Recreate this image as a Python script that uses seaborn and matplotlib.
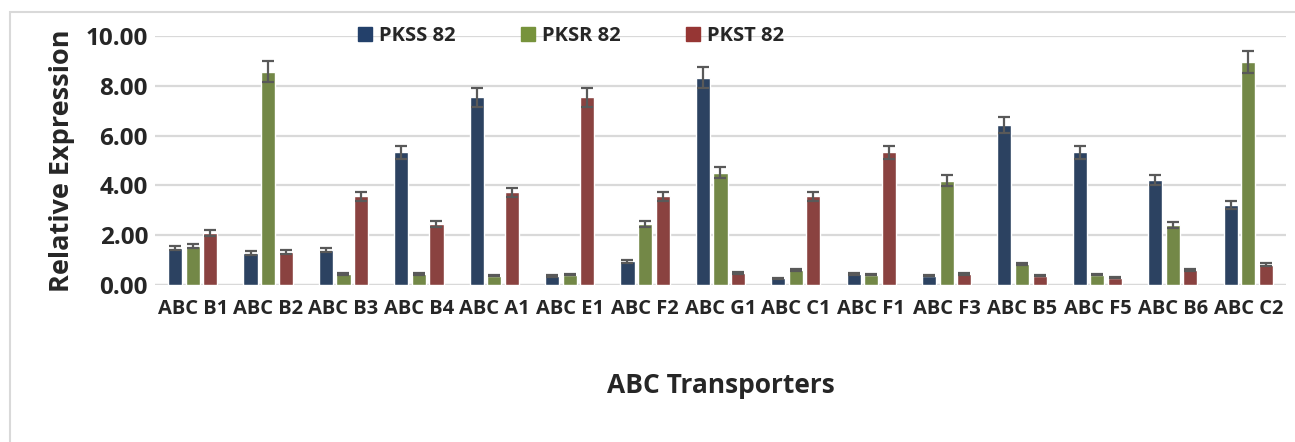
import numpy as np
import pandas as pd
import matplotlib
matplotlib.use("Agg")
import matplotlib.pyplot as plt
import seaborn as sns
from matplotlib.patches import Rectangle
from matplotlib.lines import Line2D

genes = ["ABC B1", "ABC B2", "ABC B3", "ABC B4", "ABC A1", "ABC E1", "ABC F2", "ABC G1",
         "ABC C1", "ABC F1", "ABC F3", "ABC B5", "ABC F5", "ABC B6", "ABC C2"]
series = ["PKSS 82", "PKSR 82", "PKST 82"]

pkss = [1.50, 1.27, 1.42, 5.33, 7.55, 0.37, 0.95, 8.32, 0.27, 0.45, 0.38, 6.42, 5.33, 4.22, 3.22]
pksr = [1.55, 8.57, 0.45, 0.45, 0.38, 0.42, 2.45, 4.52, 0.62, 0.42, 4.20, 0.85, 0.42, 2.40, 8.97]
pkst = [2.10, 1.33, 3.57, 2.45, 3.72, 7.55, 3.57, 0.50, 3.57, 5.33, 0.45, 0.38, 0.30, 0.60, 0.82]

pkss_err = [0.08, 0.08, 0.08, 0.27, 0.38, 0.03, 0.05, 0.42, 0.03, 0.03, 0.03, 0.32, 0.27, 0.21, 0.16]
pksr_err = [0.08, 0.42, 0.03, 0.03, 0.03, 0.03, 0.12, 0.23, 0.04, 0.03, 0.21, 0.05, 0.03, 0.12, 0.45]
pkst_err = [0.11, 0.07, 0.18, 0.12, 0.18, 0.38, 0.18, 0.04, 0.18, 0.27, 0.03, 0.03, 0.03, 0.03, 0.05]

colors = ["#23406A", "#77933C", "#963634"]

df = pd.DataFrame({
    "gene": genes * 3,
    "sample": np.repeat(series, len(genes)),
    "value": pkss + pksr + pkst,
})
errs = [pkss_err, pksr_err, pkst_err]

sns.set_style("white")
plt.rcParams["font.family"] = ["Open Sans", "DejaVu Sans"]

fig = plt.figure(figsize=(12.95, 4.42), dpi=100)
ax = fig.add_axes([0.1197, 0.355, 0.8733, 0.5634])

sns.barplot(data=df, x="gene", y="value", hue="sample", palette=colors,
            width=0.7, gap=0.2, errorbar=None, ax=ax, zorder=3, legend=False)

for cont, e in zip(ax.containers, errs):
    xs = [p.get_x() + p.get_width() / 2 for p in cont]
    ys = [p.get_height() for p in cont]
    ax.errorbar(xs, ys, yerr=e, fmt="none", ecolor="#595959", elinewidth=1.6,
                capsize=4.5, capthick=1.6, zorder=4)

ax.set_ylim(0, 10)
ax.set_xlim(-0.5, len(genes) - 0.5)
ax.set_yticks(np.arange(0, 10.01, 2))
ax.set_yticklabels([f"{v:.2f}" for v in np.arange(0, 10.01, 2)])
ax.yaxis.grid(True, color="#D9D9D9", linewidth=1.6, zorder=0)
ax.set_axisbelow(True)
for s in ax.spines.values():
    s.set_visible(False)
ax.axhline(0, color="#D9D9D9", linewidth=1.6, zorder=1)
ax.tick_params(axis="y", length=0, pad=5, labelsize=17.5)
ax.tick_params(axis="x", length=0, pad=10, labelsize=14.5)
for lab in ax.get_xticklabels() + ax.get_yticklabels():
    lab.set_fontweight("bold")

ax.set_ylabel("Relative Expression", fontsize=19.5, fontweight="bold", labelpad=8)
ax.set_xlabel("ABC Transporters", fontsize=19, fontweight="bold", labelpad=38)

handles = [Line2D([], [], marker="s", linestyle="none", markersize=10,
                  markerfacecolor=c, markeredgecolor=c) for c in colors]
ax.legend(handles, series, loc="center", bbox_to_anchor=(0.368, 1.0), ncol=3,
          frameon=False, prop={"size": 14.5, "weight": "bold"}, handlelength=0.6,
          handletextpad=0.4, columnspacing=3.3)

fig.patches.append(Rectangle((10 / 1295, -0.1), 1.2, 1 - 12 / 442 + 0.1,
                             transform=fig.transFigure, fill=False,
                             edgecolor="#D9D9D9", linewidth=1.5))

fig.savefig("out.png", dpi=100)
